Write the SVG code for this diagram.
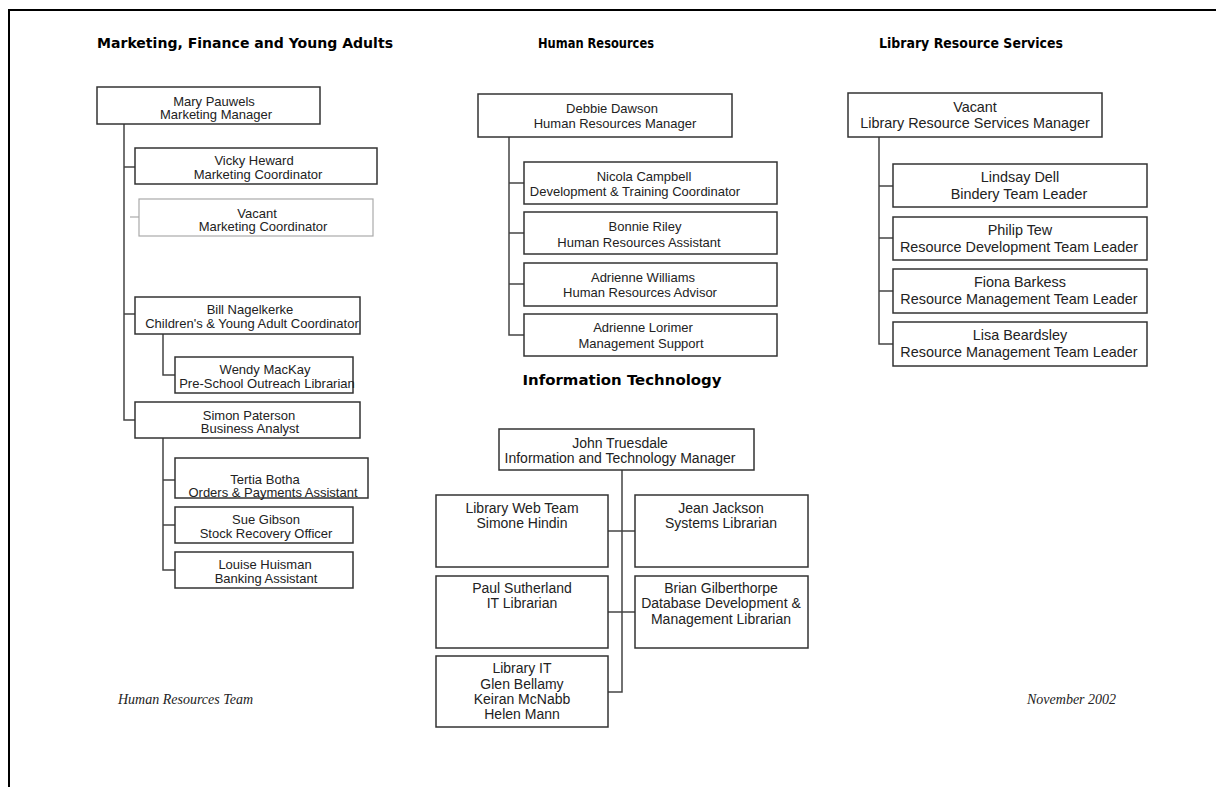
<svg xmlns="http://www.w3.org/2000/svg" width="1216" height="787" viewBox="0 0 1216 787">
<style>
.bg{fill:#fff}
.frame{fill:none;stroke:#000;stroke-width:2}
.box{fill:#fff;stroke:#333;stroke-width:1.5}
.vbox{fill:#fff;stroke:#aaa;stroke-width:1.2}
.ln{fill:none;stroke:#444;stroke-width:1.5}
.vln{fill:none;stroke:#aaa;stroke-width:1.2}
.title{font-family:"DejaVu Sans",Verdana,sans-serif;font-weight:bold;font-size:14px;fill:#000;text-anchor:middle}
.t13{font-family:"Liberation Sans",Arial,sans-serif;font-size:13px;fill:#222;text-anchor:middle}
.t14{font-family:"Liberation Sans",Arial,sans-serif;font-size:14px;fill:#222;text-anchor:middle}
.t145{font-family:"Liberation Sans",Arial,sans-serif;font-size:14.4px;fill:#222;text-anchor:middle}
.foot{font-family:"Liberation Serif","Times New Roman",serif;font-style:italic;font-size:14px;fill:#222}
</style>
<rect class="bg" x="0" y="0" width="1216" height="787"/>
<path class="frame" d="M9,787 V10 H1216"/>

<g id="titles">
<text class="title" x="245" y="48" textLength="296" lengthAdjust="spacingAndGlyphs">Marketing, Finance and Young Adults</text>
<text class="title" x="596" y="48" style="font-size:13.5px" textLength="116" lengthAdjust="spacingAndGlyphs">Human Resources</text>
<text class="title" x="971" y="48" style="font-size:13.5px" textLength="184" lengthAdjust="spacingAndGlyphs">Library Resource Services</text>
<text class="title" x="622" y="385" textLength="199" lengthAdjust="spacingAndGlyphs">Information Technology</text>
</g>

<g id="connectors">
<path class="ln" d="M124,124 V420 H135"/>
<path class="ln" d="M124,167 H135"/>
<path class="vln" d="M130,217 H139"/>
<path class="ln" d="M124,314 H135"/>
<path class="ln" d="M163,334 V375 H175"/>
<path class="ln" d="M163,438 V570 H175"/>
<path class="ln" d="M163,480 H175"/>
<path class="ln" d="M163,525 H175"/>
<path class="ln" d="M509,137 V335 H524"/>
<path class="ln" d="M509,183 H524"/>
<path class="ln" d="M509,233 H524"/>
<path class="ln" d="M509,284 H524"/>
<path class="ln" d="M622,470 V692 H608"/>
<path class="ln" d="M608,531 H635"/>
<path class="ln" d="M608,612 H635"/>
<path class="ln" d="M879,137 V344 H893"/>
<path class="ln" d="M879,186 H893"/>
<path class="ln" d="M879,238 H893"/>
<path class="ln" d="M879,291 H893"/>
</g>

<g id="mary">
<rect class="box" x="97" y="87" width="223" height="37"/>
<text class="t13" x="214" y="106">Mary Pauwels</text>
<text class="t13" x="216" y="119">Marketing Manager</text>
</g>
<g id="vicky">
<rect class="box" x="135" y="148" width="242" height="36"/>
<text class="t13" x="254" y="165">Vicky Heward</text>
<text class="t13" x="258" y="179">Marketing Coordinator</text>
</g>
<g id="vacant-marketing">
<rect class="vbox" x="139" y="199" width="234" height="37"/>
<text class="t13" x="257" y="218">Vacant</text>
<text class="t13" x="263" y="231">Marketing Coordinator</text>
</g>
<g id="bill">
<rect class="box" x="135" y="297" width="225" height="37"/>
<text class="t13" x="250" y="314">Bill Nagelkerke</text>
<text class="t13" x="252" y="328">Children's &amp; Young Adult Coordinator</text>
</g>
<g id="wendy">
<rect class="box" x="175" y="357" width="178" height="36"/>
<text class="t13" x="265" y="374">Wendy MacKay</text>
<text class="t13" x="267" y="388">Pre-School Outreach Librarian</text>
</g>
<g id="simon">
<rect class="box" x="135" y="402" width="225" height="36"/>
<text class="t13" x="249" y="420">Simon Paterson</text>
<text class="t13" x="250" y="433">Business Analyst</text>
</g>
<g id="tertia">
<rect class="box" x="175" y="458" width="193" height="40"/>
<text class="t13" x="265" y="484">Tertia Botha</text>
<text class="t13" x="273" y="497">Orders &amp; Payments Assistant</text>
</g>
<g id="sue">
<rect class="box" x="175" y="507" width="178" height="36"/>
<text class="t13" x="266" y="524">Sue Gibson</text>
<text class="t13" x="266" y="538">Stock Recovery Officer</text>
</g>
<g id="louise">
<rect class="box" x="175" y="552" width="178" height="36"/>
<text class="t13" x="265" y="569">Louise Huisman</text>
<text class="t13" x="266" y="583">Banking Assistant</text>
</g>

<g id="debbie">
<rect class="box" x="478" y="94" width="254" height="43"/>
<text class="t13" x="612" y="113">Debbie Dawson</text>
<text class="t13" x="615" y="128">Human Resources Manager</text>
</g>
<g id="nicola">
<rect class="box" x="524" y="162" width="253" height="42"/>
<text class="t13" x="644" y="181">Nicola Campbell</text>
<text class="t13" x="635" y="196">Development &amp; Training Coordinator</text>
</g>
<g id="bonnie">
<rect class="box" x="524" y="212" width="253" height="42"/>
<text class="t13" x="645" y="231">Bonnie Riley</text>
<text class="t13" x="639" y="247">Human Resources Assistant</text>
</g>
<g id="adrienne-w">
<rect class="box" x="524" y="263" width="253" height="43"/>
<text class="t13" x="643" y="282">Adrienne Williams</text>
<text class="t13" x="640" y="297">Human Resources Advisor</text>
</g>
<g id="adrienne-l">
<rect class="box" x="524" y="314" width="253" height="42"/>
<text class="t13" x="643" y="332">Adrienne Lorimer</text>
<text class="t13" x="641" y="348">Management Support</text>
</g>

<g id="john">
<rect class="box" x="499" y="429" width="255" height="41"/>
<text class="t14" x="620" y="448">John Truesdale</text>
<text class="t14" x="620" y="463">Information and Technology Manager</text>
</g>
<g id="webteam">
<rect class="box" x="436" y="495" width="172" height="72"/>
<text class="t14" x="522" y="513">Library Web Team</text>
<text class="t14" x="522" y="528">Simone Hindin</text>
</g>
<g id="jean">
<rect class="box" x="635" y="495" width="173" height="72"/>
<text class="t14" x="721" y="513">Jean Jackson</text>
<text class="t14" x="721" y="528">Systems Librarian</text>
</g>
<g id="paul">
<rect class="box" x="436" y="576" width="172" height="72"/>
<text class="t14" x="522" y="593">Paul Sutherland</text>
<text class="t14" x="522" y="608">IT Librarian</text>
</g>
<g id="brian">
<rect class="box" x="635" y="576" width="173" height="72"/>
<text class="t14" x="721" y="593">Brian Gilberthorpe</text>
<text class="t14" x="721" y="608">Database Development &amp;</text>
<text class="t14" x="721" y="624">Management Librarian</text>
</g>
<g id="libit">
<rect class="box" x="436" y="656" width="172" height="71"/>
<text class="t14" x="522" y="673">Library IT</text>
<text class="t14" x="522" y="689">Glen Bellamy</text>
<text class="t14" x="522" y="704">Keiran McNabb</text>
<text class="t14" x="522" y="719">Helen Mann</text>
</g>

<g id="vacant-lrs">
<rect class="box" x="848" y="93" width="254" height="44"/>
<text class="t145" x="975" y="112">Vacant</text>
<text class="t145" x="975" y="128">Library Resource Services Manager</text>
</g>
<g id="lindsay">
<rect class="box" x="893" y="164" width="254" height="43"/>
<text class="t145" x="1020" y="182">Lindsay Dell</text>
<text class="t145" x="1019" y="199">Bindery Team Leader</text>
</g>
<g id="philip">
<rect class="box" x="893" y="217" width="254" height="43"/>
<text class="t145" x="1020" y="235">Philip Tew</text>
<text class="t145" x="1019" y="252">Resource Development Team Leader</text>
</g>
<g id="fiona">
<rect class="box" x="893" y="269" width="254" height="44"/>
<text class="t145" x="1020" y="287">Fiona Barkess</text>
<text class="t145" x="1019" y="304">Resource Management Team Leader</text>
</g>
<g id="lisa">
<rect class="box" x="893" y="322" width="254" height="44"/>
<text class="t145" x="1020" y="340">Lisa Beardsley</text>
<text class="t145" x="1019" y="357">Resource Management Team Leader</text>
</g>

<g id="footer">
<text class="foot" x="118" y="704">Human Resources Team</text>
<text class="foot" x="1027" y="704">November 2002</text>
</g>
</svg>
